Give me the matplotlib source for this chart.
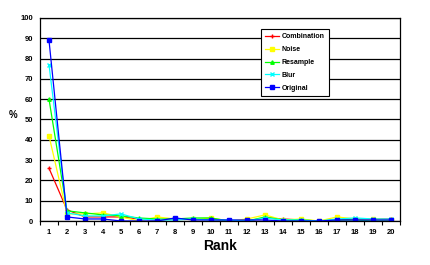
import matplotlib
matplotlib.use("Agg")
import matplotlib.pyplot as plt
import numpy as np

ranks = list(range(1, 21))
combination = [26, 5.5, 2, 2, 2, 1, 0.5, 1, 1, 1, 0, 0, 1.5, 1, 0.5, 0, 0.5, 1, 1, 1]
noise = [42, 3.5, 3.5, 4, 2, 0, 2, 1, 1, 1.5, 0, 1, 3, 0.5, 1, 0, 2, 1, 1, 0.5]
resample = [60, 5, 4, 3, 2.5, 1.5, 1, 1, 1.5, 1.5, 0, 0, 2, 0.5, 0.5, 0, 0.5, 0.5, 0, 0]
blur = [77, 4, 2.5, 2.5, 3.5, 1, 0.5, 0.5, 1, 0.5, 0.5, 0, 1.5, 0.5, 0.5, 0, 1, 1.5, 1, 1]
original = [89, 2, 1, 1, 0, 0, 0, 1.5, 0.5, 0.5, 0.5, 0.5, 0.5, 0, 0, 0, 0.5, 0.5, 0.5, 0.5]

series = [
    ("Combination", combination, "#ff0000", "+"),
    ("Noise", noise, "#ffff00", "s"),
    ("Resample", resample, "#00ff00", "^"),
    ("Blur", blur, "#00ffff", "x"),
    ("Original", original, "#0000ff", "s"),
]

plt.rcParams['font.family'] = ['Liberation Sans', 'DejaVu Sans']

fig = plt.figure(figsize=(4.31, 2.65), dpi=100)
ax = fig.add_axes([40 / 431, 44 / 265, 360 / 431, 203 / 265])

for name, vals, col, mk in series:
    ax.plot(ranks, vals, color=col, marker=mk, markersize=2.5, linewidth=0.9,
            markeredgewidth=1, label=name)

ax.set_xlim(0.5, 20.5)
ax.set_ylim(0, 100)
ax.set_yticks(range(0, 101, 10))
ax.set_yticklabels([str(v) for v in range(0, 101, 10)], fontsize=5.5, fontweight='bold')
ax.set_xticks(ranks)
ax.set_xticklabels([str(r) for r in ranks], fontsize=5.5, fontweight='bold')
ax.set_xticks(np.arange(0.5, 21, 1), minor=True)
ax.tick_params(axis='x', which='major', length=0, pad=6)
ax.tick_params(axis='x', which='minor', length=3, width=0.8, direction='out')
ax.tick_params(axis='y', length=0, pad=5)
ax.yaxis.grid(True, color='black', linewidth=0.9)
ax.set_axisbelow(True)
for s in ax.spines.values():
    s.set_linewidth(0.9)

ax.set_xlabel("Rank", fontsize=10, fontweight='bold', labelpad=2)
ax.set_ylabel("%", fontsize=7, fontweight='bold', rotation=0, labelpad=12)
ax.yaxis.set_label_coords(-0.075, 0.5)

leg = ax.legend(loc='upper left', bbox_to_anchor=(221 / 360, 1 - 11 / 203),
                prop={'weight': 'bold', 'size': 5}, frameon=True,
                fancybox=False, edgecolor='black', framealpha=1,
                handlelength=2.0, handletextpad=0.4, borderpad=0.6,
                labelspacing=0.85, borderaxespad=0)
leg.get_frame().set_linewidth(0.8)

fig.savefig("out.png", dpi=100)
